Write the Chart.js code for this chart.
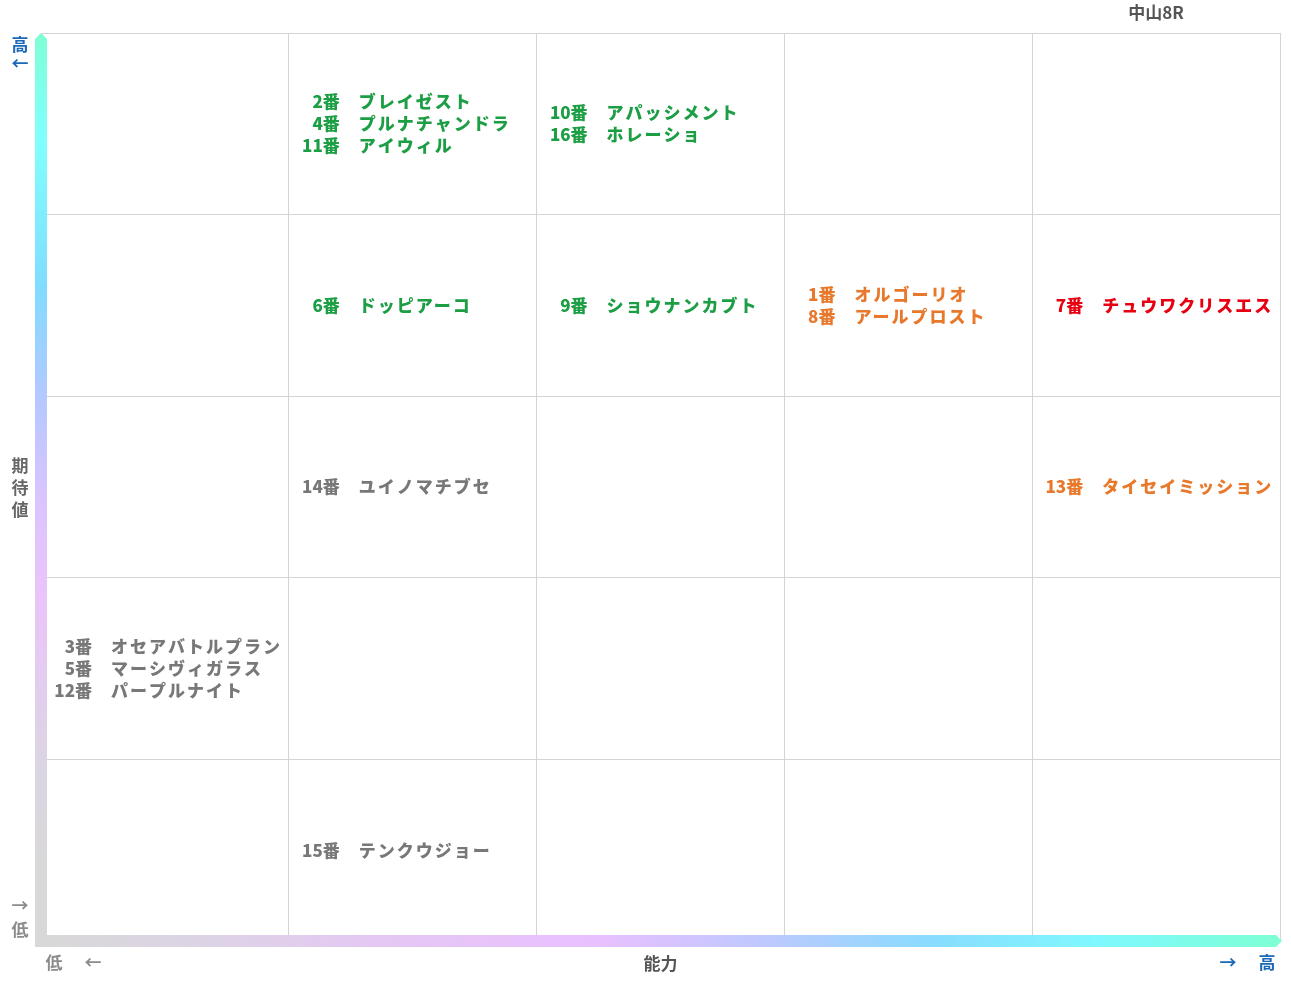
<!DOCTYPE html>
<html>
<head>
<meta charset="utf-8">
<script src="https://cdn.jsdelivr.net/npm/chart.js@4/dist/chart.umd.min.js"></script>
<style>
  html, body { margin: 0; padding: 0; background: #fff; }
  #wrap { width: 1291px; height: 983px; }
</style>
</head>
<body>
<div id="wrap"><canvas id="canvas" width="1291" height="983"></canvas></div>
<script>
// 馬番・馬名・能力(列)・期待値(行)
const horseNo = [2, 4, 11, 10, 16, 6, 9, 1, 8, 7, 14, 13, 3, 5, 12, 15];
const horseName = ['ブレイゼスト', 'プルナチャンドラ', 'アイウィル', 'アパッシメント', 'ホレーショ',
    'ドッピアーコ', 'ショウナンカブト', 'オルゴーリオ', 'アールプロスト', 'チュウワクリスエス',
    'ユイノマチブセ', 'タイセイミッション', 'オセアバトルプラン', 'マーシヴィガラス', 'パープルナイト', 'テンクウジョー'];
const ability = [1, 1, 1, 2, 2, 1, 2, 3, 3, 4, 1, 4, 0, 0, 0, 1];
const expectation = [4, 4, 4, 4, 4, 3, 3, 3, 3, 3, 2, 2, 1, 1, 1, 0];
const markColor = ['green', 'green', 'green', 'green', 'green', 'green', 'green', 'orange', 'orange', 'red',
    'gray', 'orange', 'gray', 'gray', 'gray', 'gray'];
const raceTitle = '中山8R';
const xTitle = '能力';
const yTitle = '期待値';

const colorMap = {green: '#1c9e44', orange: '#e8792c', red: '#e60012', gray: '#787878'};
const FONT = '"Noto Sans CJK JP", "Noto Sans", sans-serif';

function cellPoints(){
    var pts = [];
    for (var i = 0; i < horseNo.length; i++){
        pts.push({x: ability[i] + 0.5, y: expectation[i] + 0.5});
    }
    return pts;
}

function setSpacing(ctx, px){
    if ('letterSpacing' in ctx) ctx.letterSpacing = px + 'px';
}

// 馬名を各マスに描く
const labelPlugin = {
    id: 'labels',
    afterDatasetsDraw(chart){
        var ctx = chart.ctx;
        var xs = chart.scales.x;
        var meta = chart.getDatasetMeta(0);
        var colW = xs.getPixelForValue(1) - xs.getPixelForValue(0);
        ctx.save();
        ctx.textBaseline = 'middle';
        for (var i = 0; i < horseNo.length; i++){
            // same cell members
            var members = [];
            for (var j = 0; j < horseNo.length; j++){
                if (ability[j] == ability[i] && expectation[j] == expectation[i]) members.push(j);
            }
            var k = members.indexOf(i);
            var n = members.length;
            var pt = meta.data[i];
            var cellLeft = pt.x - colW / 2;
            var y = pt.y + (k - (n - 1) / 2) * 22;
            ctx.fillStyle = colorMap[markColor[i]];
            setSpacing(ctx, 0);
            ctx.font = '900 17px ' + FONT;
            ctx.textAlign = 'right';
            ctx.fillText(horseNo[i] + '番', cellLeft + 51, y);
            setSpacing(ctx, 2);
            ctx.textAlign = 'left';
            ctx.fillText(horseName[i], cellLeft + 70, y);
        }
        ctx.restore();
    }
};

// グラデーションの軸と見出し
const axisPlugin = {
    id: 'axisbars',
    afterDraw(chart){
        var ctx = chart.ctx;
        var a = chart.chartArea;
        var L = a.left, B = a.bottom, T = a.top, R = a.right;
        ctx.save();

        var gv = ctx.createLinearGradient(0, T, 0, B);
        gv.addColorStop(0, '#7fffd4');
        gv.addColorStop(0.12, '#80ffff');
        gv.addColorStop(0.28, '#80dcff');
        gv.addColorStop(0.4, '#b4c8ff');
        gv.addColorStop(0.52, '#dcc4ff');
        gv.addColorStop(0.62, '#eac4fa');
        gv.addColorStop(0.8, '#dcd4e4');
        gv.addColorStop(0.92, '#d8d8d8');
        gv.addColorStop(1, '#d8d8d8');
        ctx.fillStyle = gv;
        ctx.beginPath();
        ctx.moveTo(L - 6, T + 6);
        ctx.lineTo(L, T);
        ctx.lineTo(L + 6, T + 6);
        ctx.lineTo(L + 6, B);
        ctx.lineTo(L - 6, B + 6);
        ctx.closePath();
        ctx.fill();

        var gh = ctx.createLinearGradient(L, 0, R, 0);
        gh.addColorStop(0, '#d8d8d8');
        gh.addColorStop(0.12, '#dcd4e4');
        gh.addColorStop(0.3, '#e6c6f6');
        gh.addColorStop(0.45, '#e8c0ff');
        gh.addColorStop(0.58, '#c0c8ff');
        gh.addColorStop(0.72, '#88dcff');
        gh.addColorStop(0.85, '#80f8ff');
        gh.addColorStop(1, '#7fffd4');
        ctx.fillStyle = gh;
        ctx.beginPath();
        ctx.moveTo(L - 6, B + 6);
        ctx.lineTo(L + 6, B - 6);
        ctx.lineTo(R - 4, B - 6);
        ctx.lineTo(R + 2, B);
        ctx.lineTo(R - 4, B + 6);
        ctx.closePath();
        ctx.fill();

        ctx.textAlign = 'center';
        ctx.textBaseline = 'middle';
        ctx.font = 'bold 17px ' + FONT;
        ctx.fillStyle = '#555';
        ctx.fillText(raceTitle, 1156, 13);
        ctx.fillText(xTitle, (L + R) / 2, 964);
        ctx.fillStyle = '#666';
        for (var c = 0; c < yTitle.length; c++){
            ctx.fillText(yTitle[c], 20, 466 + c * 22);
        }

        ctx.fillStyle = '#1a68b8';
        ctx.fillText('高', 20, 45);
        ctx.fillText('←', 20, 64);
        ctx.fillText('→', 1228, 963);
        ctx.fillText('高', 1267, 963);

        ctx.fillStyle = '#8c8c8c';
        ctx.fillText('→', 20, 906);
        ctx.fillText('低', 20, 930);
        ctx.fillText('低', 54, 963);
        ctx.fillText('←', 93, 963);
        ctx.restore();
    }
};

var ctx = document.getElementById('canvas').getContext('2d');
var chart = new Chart(ctx, {
    type: 'scatter',
    data: {
        datasets: [{
            data: cellPoints(),
            pointRadius: 0,
            pointHoverRadius: 0
        }]
    },
    options: {
        responsive: false,
        animation: false,
        layout: {padding: {left: 41, right: 11, top: 33, bottom: 42}},
        plugins: {legend: {display: false}, tooltip: {enabled: false}},
        scales: {
            x: {
                min: 0, max: 5,
                ticks: {display: false, stepSize: 1},
                grid: {color: '#d4d4d4', drawTicks: false, lineWidth: 1},
                border: {display: false}
            },
            y: {
                min: 0, max: 5,
                ticks: {display: false, stepSize: 1},
                grid: {color: '#d4d4d4', drawTicks: false, lineWidth: 1},
                border: {display: false}
            }
        }
    },
    plugins: [labelPlugin, axisPlugin]
});
</script>
</body>
</html>
